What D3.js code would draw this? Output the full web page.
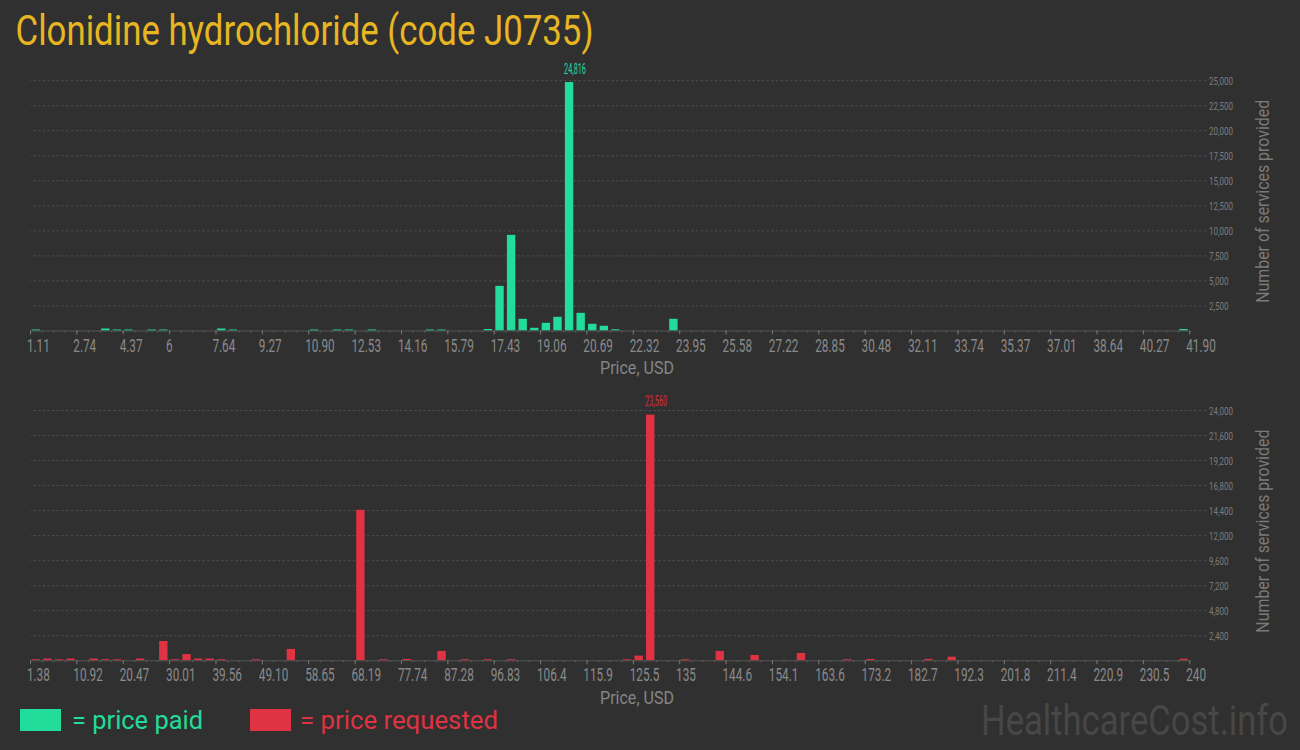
<!DOCTYPE html>
<html><head><meta charset="utf-8">
<script src="https://cdn.jsdelivr.net/npm/d3@7"></script>
<style>body{margin:0;background:#303030}svg{display:block}text{font-family:Roboto,sans-serif}</style>
</head><body><svg id="c" width="1300" height="750"></svg>
<script>
const chartTitle = "Clonidine hydrochloride (code J0735)";
const xAxisTitle = "Price, USD";
const yAxisTitle = "Number of services provided";
const watermark = "HealthcareCost.info";
const legendLabels = ["= price paid", "= price requested"];

const paidTickLabels = ["1.11","2.74","4.37","6","7.64","9.27","10.90","12.53","14.16","15.79","17.43","19.06","20.69","22.32","23.95","25.58","27.22","28.85","30.48","32.11","33.74","35.37","37.01","38.64","40.27","41.90"];
const requestedTickLabels = ["1.38","10.92","20.47","30.01","39.56","49.10","58.65","68.19","77.74","87.28","96.83","106.4","115.9","125.5","135","144.6","154.1","163.6","173.2","182.7","192.3","201.8","211.4","220.9","230.5","240"];

// histogram bins (100 equal-width bins between first and last tick label)
const paidBins   = [0,6,7,8,10,11,16,17,24,26,27,29,34,35,39,40,41,42,43,44,45,46,47,48,49,50,55,99];
const paidCounts = [100,200,100,100,100,100,200,100,100,100,100,100,100,100,150,4460,9550,1165,270,770,1370,24816,1765,670,470,120,1170,150];

const requestedBins   = [0,1,2,3,5,6,7,9,11,12,13,14,15,16,19,22,28,30,32,35,37,39,41,51,52,53,56,59,62,66,70,72,77,79,99];
const requestedCounts = [100,170,100,170,170,100,100,170,1850,100,600,170,170,100,100,1090,14430,100,130,900,100,100,100,100,450,23560,100,900,510,700,100,130,130,350,150];

const paidYTicks = [2500,5000,7500,10000,12500,15000,17500,20000,22500,25000];
const requestedYTicks = [2400,4800,7200,9600,12000,14400,16800,19200,21600,24000];

const GREEN = "#22dc9b", RED = "#df3242";
const svg = d3.select("#c");
svg.append("rect").attr("width",1300).attr("height",750).attr("fill","#303030");

function fitText(sel, w){
  sel.attr("textLength", w).attr("lengthAdjust","spacingAndGlyphs");
}

svg.append("text").text(chartTitle).attr("x",15.5).attr("y",45)
  .attr("font-size",42).attr("fill","#e7b622").call(fitText,578);

function panel(o){
  const lo = parseFloat(o.labels[0]), hi = parseFloat(o.labels[o.labels.length-1]);
  const x = d3.scaleLinear().domain([lo,hi]).range([30,1189.3]);
  const y = d3.scaleLinear().domain([0,o.yMax]).range([o.base,o.top]);
  const step = (hi-lo)/100;
  const edges = d3.range(101).map(i=>lo+i*step);
  const g = svg.append("g");

  // grid + y labels
  const ya = d3.axisRight(y).tickValues(o.yTicks).tickSize(-1176).tickPadding(3)
    .tickFormat(d3.format(","));
  const yg = g.append("g").attr("transform","translate(1206,0)").call(ya);
  yg.select(".domain").remove();
  yg.selectAll("line").attr("stroke","#4e4e4e").attr("stroke-dasharray","2.5,2.2");
  yg.selectAll("text").attr("fill","#7c7c7c").attr("font-size",11.3)
    .attr("dy",null).attr("y",4)
    .attr("transform","scale(0.71,1)").attr("x",3/0.71);

  // bars
  g.append("g").selectAll("rect").data(o.bins).join("rect")
    .attr("x",(b)=>x(edges[b])+1.6)
    .attr("width",(b)=>x(edges[b+1])-x(edges[b])-3.2)
    .attr("y",(b,i)=>y(o.counts[i]))
    .attr("height",(b,i)=>o.base-y(o.counts[i]))
    .attr("fill",o.color);

  // minor ticks
  const minor = d3.axisBottom(x).tickValues(edges).tickSize(2).tickFormat("");
  const mg = g.append("g").attr("transform",`translate(0,${o.base})`).call(minor);
  mg.selectAll("line").attr("stroke","#5e5e5e");
  mg.select(".domain").attr("stroke","#555").attr("d",`M30,0.5H1189.3`);

  // major ticks + labels
  const majorVals = edges.filter((e,i)=>i%4===0);
  const major = d3.axisBottom(x).tickValues(majorVals).tickSize(4)
    .tickFormat((d,i)=>o.labels[i]);
  const ag = g.append("g").attr("transform",`translate(0,${o.base})`).call(major);
  ag.select(".domain").remove();
  ag.selectAll("line").attr("stroke","#777");
  ag.selectAll("text").attr("fill","#8a8a8a").attr("font-size",18.7)
    .attr("text-anchor","start").attr("dy",null).attr("y",21.2)
    .attr("transform","scale(0.63,1)").attr("x",-3.6/0.63);

  // max value label
  const mi = o.counts.indexOf(d3.max(o.counts));
  const mb = o.bins[mi];
  g.append("text").text(d3.format(",")(o.counts[mi]))
    .attr("transform",`translate(${x(edges[mb])+0.8},${y(o.counts[mi])-8.5}) scale(0.52,1)`)
    .attr("font-size",14).attr("fill",o.labelColor);

  // axis titles
  g.append("text").text(xAxisTitle).attr("x",637).attr("y",o.base+43.5)
    .attr("text-anchor","middle").attr("font-size",18).attr("fill","#858585").call(fitText,74);
  g.append("text").text(yAxisTitle)
    .attr("transform",`translate(1269,${(o.top+o.base)/2-4}) rotate(-90)`)
    .attr("text-anchor","middle").attr("font-size",17.5).attr("fill","#7a7a7a").call(fitText,203);
}

panel({labels:paidTickLabels, bins:paidBins, counts:paidCounts, yTicks:paidYTicks,
  yMax:25000, base:330.5, top:80.2, color:GREEN, labelColor:GREEN});
panel({labels:requestedTickLabels, bins:requestedBins, counts:requestedCounts, yTicks:requestedYTicks,
  yMax:24000, base:660.3, top:410, color:RED, labelColor:"#d23040"});

// legend
svg.append("rect").attr("x",20).attr("y",709).attr("width",41).attr("height",22).attr("fill",GREEN);
svg.append("text").text(legendLabels[0]).attr("x",72).attr("y",729).attr("font-size",25)
  .attr("fill",GREEN).call(fitText,131);
svg.append("rect").attr("x",250).attr("y",709).attr("width",41).attr("height",22).attr("fill",RED);
svg.append("text").text(legendLabels[1]).attr("x",300).attr("y",729).attr("font-size",25)
  .attr("fill",RED).call(fitText,198);

svg.append("text").text(watermark)
  .attr("transform","translate(981,735) scale(1,1.24)")
  .attr("font-size",34).attr("fill","#474747").call(fitText,307);
</script></body></html>
